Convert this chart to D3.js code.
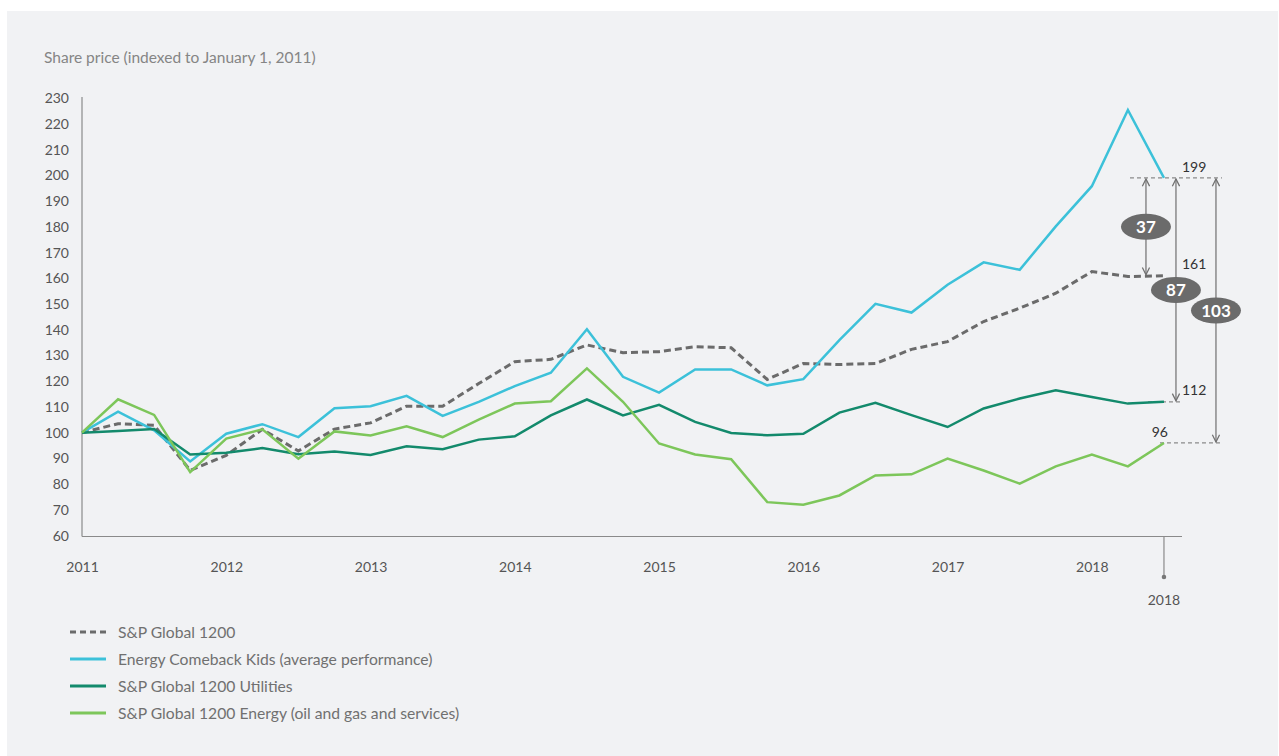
<!DOCTYPE html>
<html lang="en">
<head>
  <meta charset="UTF-8">
  <title>Share price</title>
  <style>
    body { margin: 0; background: #fff; }
    text { font-family: Lato, "Open Sans", sans-serif; }
  </style>
</head>
<body>
  <script src="https://d3js.org/d3.v7.min.js"></script>
  <script>
    // quarterly points, 2011 Q1 .. 2018 Q3
    const quarters = [
      2011, 2011.25, 2011.5, 2011.75, 2012, 2012.25, 2012.5, 2012.75,
      2013, 2013.25, 2013.5, 2013.75, 2014, 2014.25, 2014.5, 2014.75,
      2015, 2015.25, 2015.5, 2015.75, 2016, 2016.25, 2016.5, 2016.75,
      2017, 2017.25, 2017.5, 2017.75, 2018, 2018.25, 2018.5
    ];
    const years = [2011, 2012, 2013, 2014, 2015, 2016, 2017, 2018];
    const yTicks = [60, 70, 80, 90, 100, 110, 120, 130, 140, 150, 160, 170, 180, 190, 200, 210, 220, 230];

    const spGlobal = [100, 103.5, 102.9, 85.3, 91.2, 101.3, 92.9, 101.4, 103.8, 110.3, 110.3, 119.1, 127.6, 128.5, 134.1, 131.1,
      131.5, 133.4, 133.0, 120.7, 126.9, 126.5, 126.9, 132.4, 135.4, 143.2, 148.4, 154.2, 162.6, 160.7, 161];
    const comebackKids = [100, 108.2, 100.9, 88.8, 99.6, 103.3, 98.3, 109.5, 110.3, 114.3, 106.5, 112.0, 118.1, 123.3, 140.2, 121.7,
      115.6, 124.6, 124.6, 118.4, 120.8, 136.0, 150.1, 146.7, 157.5, 166.2, 163.3, 180.2, 195.8, 225.4, 199];
    const utilities = [100, 100.7, 101.4, 91.5, 92.2, 94.0, 91.6, 92.7, 91.3, 94.7, 93.6, 97.3, 98.6, 106.7, 112.9, 106.7,
      110.8, 104.2, 99.9, 99.0, 99.6, 107.8, 111.6, 106.8, 102.2, 109.4, 113.3, 116.5, 113.9, 111.3, 112];
    const energy = [100, 113.0, 106.9, 84.7, 97.7, 101.3, 89.9, 100.5, 98.9, 102.5, 98.3, 105.1, 111.3, 112.2, 125.0, 112.0,
      95.8, 91.5, 89.7, 73.0, 72.0, 75.6, 83.4, 83.8, 89.9, 85.3, 80.2, 86.9, 91.5, 86.9, 96];

    const seriesNames = [
      'S&P Global 1200',
      'Energy Comeback Kids (average performance)',
      'S&P Global 1200 Utilities',
      'S&P Global 1200 Energy (oil and gas and services)'
    ];
    const endLabels = [199, 161, 112, 96];
    const gaps = [37, 87, 103];

    const series = [
      { name: seriesNames[0], values: spGlobal, color: '#6b6b6b', dash: '7,4', width: 3 },
      { name: seriesNames[1], values: comebackKids, color: '#3cc1d9', dash: null, width: 2.5 },
      { name: seriesNames[2], values: utilities, color: '#138a6c', dash: null, width: 2.5 },
      { name: seriesNames[3], values: energy, color: '#7dc65a', dash: null, width: 2.5 }
    ];

    const width = 1279;
    const height = 756;

    const svg = d3.select('body')
      .append('svg')
      .attr('width', width)
      .attr('height', height);

    svg.append('rect')
      .attr('x', 7)
      .attr('y', 11)
      .attr('width', 1271)
      .attr('height', 745)
      .attr('fill', '#f1f2f4');

    const xScale = d3.scaleLinear()
      .domain([2011, 2018.625])
      .range([82, 1182]);

    const yScale = d3.scaleLinear()
      .domain([60, 230])
      .range([535.6, 98.2]);

    // title
    svg.append('text')
      .attr('x', 44)
      .attr('y', 63)
      .attr('fill', '#858585')
      .attr('font-size', 15.5)
      .text('Share price (indexed to January 1, 2011)');

    // y axis
    const yAxis = d3.axisLeft(yScale)
      .tickValues(yTicks)
      .tickSize(0)
      .tickPadding(13);

    const gy = svg.append('g')
      .attr('transform', 'translate(82, 0)')
      .call(yAxis);
    gy.select('.domain').remove();
    gy.selectAll('text')
      .attr('font-size', 14)
      .attr('fill', '#555')
      .style('font-family', 'Lato, sans-serif');

    svg.append('line')
      .attr('x1', 82).attr('x2', 82)
      .attr('y1', 97).attr('y2', 536.5)
      .attr('stroke', '#8a8a8a')
      .attr('stroke-width', 1.2);

    // x axis
    const xAxis = d3.axisBottom(xScale)
      .tickValues(years)
      .tickFormat(d3.format('d'))
      .tickSize(0)
      .tickPadding(26);

    const gx = svg.append('g')
      .attr('transform', 'translate(0, 536.5)')
      .call(xAxis);
    gx.select('.domain').remove();
    gx.selectAll('text')
      .attr('font-size', 14)
      .attr('fill', '#555')
      .style('font-family', 'Lato, sans-serif');

    svg.append('line')
      .attr('x1', 82).attr('x2', 1182)
      .attr('y1', 536.5).attr('y2', 536.5)
      .attr('stroke', '#8a8a8a')
      .attr('stroke-width', 1.2);

    // end marker below the axis
    const lastX = xScale(quarters[quarters.length - 1]);
    svg.append('line')
      .attr('x1', lastX).attr('x2', lastX)
      .attr('y1', 536.5).attr('y2', 577)
      .attr('stroke', '#8a8a8a')
      .attr('stroke-width', 1.2);
    svg.append('circle')
      .attr('cx', lastX).attr('cy', 577)
      .attr('r', 2.3)
      .attr('fill', '#777');
    svg.append('text')
      .attr('x', lastX)
      .attr('y', 605)
      .attr('text-anchor', 'middle')
      .attr('font-size', 14)
      .attr('fill', '#555')
      .text(years[years.length - 1]);

    // reference dashed lines at the end values
    const refLines = [
      { v: endLabels[0], x1: lastX - 34, x2: lastX + 58 },
      { v: endLabels[2], x1: lastX - 16, x2: lastX + 18 },
      { v: endLabels[3], x1: lastX - 4, x2: lastX + 56 }
    ];
    svg.append('g')
      .selectAll('line')
      .data(refLines)
      .join('line')
      .attr('x1', d => d.x1)
      .attr('x2', d => d.x2)
      .attr('y1', d => yScale(d.v))
      .attr('y2', d => yScale(d.v))
      .attr('stroke', '#8a8a8a')
      .attr('stroke-width', 1.2)
      .attr('stroke-dasharray', '4,3');

    // lines
    const line = d3.line()
      .x((d, i) => xScale(quarters[i]))
      .y(d => yScale(d));

    svg.append('g')
      .selectAll('path')
      .data(series)
      .join('path')
      .attr('d', d => line(d.values))
      .attr('fill', 'none')
      .attr('stroke', d => d.color)
      .attr('stroke-width', d => d.width)
      .attr('stroke-dasharray', d => d.dash)
      .attr('stroke-linejoin', 'miter');

    // arrows
    const defs = svg.append('defs');
    defs.append('marker')
      .attr('id', 'arrow')
      .attr('viewBox', '0 0 10 10')
      .attr('refX', 9)
      .attr('refY', 5)
      .attr('markerWidth', 9)
      .attr('markerHeight', 9)
      .attr('markerUnits', 'userSpaceOnUse')
      .attr('orient', 'auto-start-reverse')
      .append('path')
      .attr('d', 'M1,1 L9,5 L1,9')
      .attr('fill', 'none')
      .attr('stroke', '#707070')
      .attr('stroke-width', 1.4);

    const arrows = [
      { label: gaps[0], x: lastX - 18, from: endLabels[0], to: endLabels[1] },
      { label: gaps[1], x: lastX + 12, from: endLabels[0], to: endLabels[2] },
      { label: gaps[2], x: lastX + 52, from: endLabels[0], to: endLabels[3] }
    ];

    const ga = svg.append('g')
      .selectAll('g')
      .data(arrows)
      .join('g');

    ga.append('line')
      .attr('x1', d => d.x)
      .attr('x2', d => d.x)
      .attr('y1', d => yScale(d.from) + 1)
      .attr('y2', d => yScale(d.to) - 1)
      .attr('stroke', '#707070')
      .attr('stroke-width', 1.2)
      .attr('marker-start', 'url(#arrow)')
      .attr('marker-end', 'url(#arrow)');

    ga.append('ellipse')
      .attr('cx', d => d.x)
      .attr('cy', d => (yScale(d.from) + yScale(d.to)) / 2)
      .attr('rx', 25)
      .attr('ry', 13)
      .attr('fill', '#6b6b6b');

    ga.append('text')
      .attr('x', d => d.x)
      .attr('y', d => (yScale(d.from) + yScale(d.to)) / 2)
      .attr('dy', '0.36em')
      .attr('text-anchor', 'middle')
      .attr('font-size', 17)
      .attr('font-weight', 'bold')
      .attr('fill', '#fff')
      .text(d => d.label);

    // end value labels
    const valueLabels = [
      { v: endLabels[0], x: lastX + 18, dy: -11, anchor: 'start' },
      { v: endLabels[1], x: lastX + 18, dy: -12, anchor: 'start' },
      { v: endLabels[2], x: lastX + 18, dy: -12, anchor: 'start' },
      { v: endLabels[3], x: lastX + 4, dy: -11, anchor: 'end' }
    ];
    svg.append('g')
      .selectAll('text')
      .data(valueLabels)
      .join('text')
      .attr('x', d => d.x)
      .attr('y', d => yScale(d.v) + d.dy)
      .attr('dy', '0.35em')
      .attr('text-anchor', d => d.anchor)
      .attr('font-size', 14)
      .attr('fill', '#333')
      .text(d => d.v);

    // legend
    const legend = svg.append('g')
      .selectAll('g')
      .data(series)
      .join('g')
      .attr('transform', (d, i) => `translate(70, ${632 + i * 27})`);

    legend.append('line')
      .attr('x1', 0).attr('x2', 36)
      .attr('y1', 0).attr('y2', 0)
      .attr('stroke', d => d.color)
      .attr('stroke-width', 3)
      .attr('stroke-dasharray', d => d.dash ? '6,4' : null);

    legend.append('text')
      .attr('x', 48)
      .attr('y', 0)
      .attr('dy', '0.35em')
      .attr('font-size', 15.7)
      .attr('fill', '#707070')
      .text(d => d.name);
  </script>
</body>
</html>
